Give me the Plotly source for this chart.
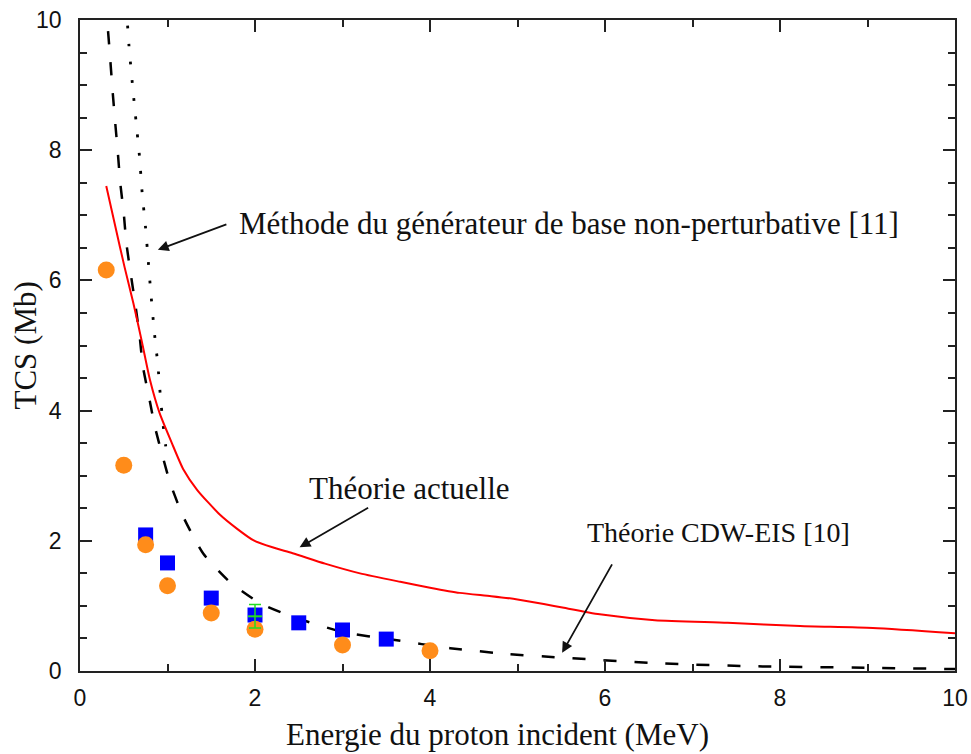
import plotly.graph_objects as go

# Théorie actuelle (red solid)
red_x = [0.3, 0.4, 0.51, 0.61, 0.71, 0.8, 0.91, 1.05, 1.18, 1.34, 1.6, 1.8, 1.98, 2.2, 2.43, 2.8,
         3.2, 3.66, 4.0, 4.34, 4.7, 5.0, 5.3, 5.53, 5.94, 6.57, 7.4, 8.23, 9.06, 10.0]
red_y = [7.45, 6.85, 6.2, 5.65, 5.04, 4.47, 3.96, 3.5, 3.1, 2.78, 2.4, 2.18, 2.01, 1.9, 1.81, 1.65,
         1.5, 1.37, 1.28, 1.2, 1.15, 1.1, 1.03, 0.97, 0.87, 0.78, 0.74, 0.69, 0.66, 0.58]

# Théorie CDW-EIS [10] (black dashed)
cdw_x = [0.29, 0.31, 0.34, 0.37, 0.4, 0.43, 0.46, 0.5, 0.53, 0.58, 0.63, 0.68, 0.72, 0.79, 0.86,
         0.95, 1.03, 1.18, 1.41, 1.71, 2.06, 2.44, 3.0, 3.58, 4.23, 4.9, 5.57, 6.57, 7.8, 9.0, 10.0]
cdw_y = [10.3, 10.0, 9.5, 8.95, 8.46, 8.0, 7.5, 7.03, 6.57, 6.1, 5.65, 5.16, 4.67, 4.2, 3.73,
         3.27, 2.89, 2.37, 1.8, 1.37, 1.04, 0.83, 0.6, 0.48, 0.35, 0.26, 0.2, 0.12, 0.07, 0.05, 0.03]

# Méthode du générateur de base non-perturbative [11] (black dotted)
nb_x = [0.53, 0.56, 0.6, 0.64, 0.68, 0.71, 0.75, 0.78, 0.81, 0.85, 0.89, 0.92, 0.95, 0.98]
nb_y = [10.2, 9.6, 9.0, 8.45, 7.9, 7.35, 6.8, 6.3, 5.8, 5.2, 4.7, 4.2, 3.78, 3.45]

# Experimental data
orange_x = [0.3, 0.5, 0.75, 1.0, 1.5, 2.0, 3.0, 4.0]
orange_y = [6.16, 3.16, 1.94, 1.31, 0.89, 0.64, 0.4, 0.31]

blue_x = [0.75, 1.0, 1.5, 2.0, 2.5, 3.0, 3.5]
blue_y = [2.09, 1.66, 1.12, 0.86, 0.74, 0.63, 0.49]

green_x = [2.0]
green_y = [0.84]
green_err = [0.18]

x_ticks = [0, 2, 4, 6, 8, 10]
y_ticks = [0, 2, 4, 6, 8, 10]

serif = "Liberation Serif, Times New Roman, serif"
sans = "Liberation Sans, Arial, sans-serif"

fig = go.Figure()
fig.add_trace(go.Scatter(x=nb_x, y=nb_y, mode="lines",
                         line=dict(color="black", width=2.8, dash="2.8px,15.5px",
                                   shape="spline", smoothing=0.6)))
fig.add_trace(go.Scatter(x=cdw_x, y=cdw_y, mode="lines",
                         line=dict(color="black", width=2.5, dash="13px,18px",
                                   shape="spline", smoothing=0.6)))
fig.add_trace(go.Scatter(x=red_x, y=red_y, mode="lines",
                         line=dict(color="#ff0000", width=2, shape="spline", smoothing=0.6)))
fig.add_trace(go.Scatter(x=blue_x, y=blue_y, mode="markers",
                         marker=dict(symbol="square", size=15, color="#0000ff")))
fig.add_trace(go.Scatter(x=orange_x, y=orange_y, mode="markers",
                         marker=dict(symbol="circle", size=17, color="#ff8c1a")))
fig.add_trace(go.Scatter(x=green_x, y=green_y, mode="markers",
                         marker=dict(symbol="line-ew-open", size=10, color="#22dd22",
                                     line=dict(color="#22dd22", width=2)),
                         error_y=dict(type="data", array=green_err, color="#22dd22",
                                      thickness=1.5, width=6)))

axis_common = dict(
    range=[0, 10], showgrid=False, zeroline=False, automargin=False,
    showline=True, linecolor="#222", linewidth=1.5, mirror="allticks",
    ticks="inside", ticklen=12, tickwidth=1.5, tickcolor="#222",
    tickfont=dict(family=sans, size=23, color="#111"),
)

fig.update_xaxes(**axis_common, tickvals=x_ticks,
                 minor=dict(dtick=1, ticklen=7, tickwidth=1.5, tickcolor="#222", ticks="inside"),
                 ticklabelstandoff=6)
fig.update_yaxes(**axis_common, tickvals=y_ticks,
                 minor=dict(dtick=0.5, ticklen=7, tickwidth=1.5, tickcolor="#222", ticks="inside"),
                 ticklabelstandoff=12)

title_font = dict(family=serif, size=31, color="#111")
ann_font = dict(family=serif, size=31, color="#111")
annotations = [
    # axis titles
    dict(x=0.4766, y=0.0, yshift=-63, xref="paper", yref="paper",
         text="Energie du proton incident (MeV)", xanchor="center", yanchor="middle",
         showarrow=False, font=title_font),
    dict(x=0.0, xshift=-55, y=0.5, xref="paper", yref="paper", textangle=-90,
         text="TCS (Mb)", xanchor="center", yanchor="middle",
         showarrow=False, font=title_font),
    # curve labels
    dict(x=1.79, y=6.88, text="Méthode du générateur de base non-perturbative [11]",
         xanchor="left", yanchor="middle", showarrow=False, font=ann_font),
    dict(x=3.77, y=2.81, text="Théorie actuelle",
         xanchor="center", yanchor="middle", showarrow=False, font=ann_font),
    dict(x=5.77, y=2.12, text="Théorie CDW-EIS [10]",
         xanchor="left", yanchor="middle", showarrow=False,
         font=dict(family=serif, size=28, color="#111")),
    dict(x=0.89, y=6.47, ax=1.69, ay=6.87, axref="x", ayref="y", text="",
         showarrow=True, arrowhead=2, arrowsize=1.2, arrowwidth=1.8, arrowcolor="#111"),
    dict(x=2.51, y=1.90, ax=3.31, ay=2.52, axref="x", ayref="y", text="",
         showarrow=True, arrowhead=2, arrowsize=1.2, arrowwidth=1.8, arrowcolor="#111"),
    dict(x=5.51, y=0.28, ax=6.09, ay=1.66, axref="x", ayref="y", text="",
         showarrow=True, arrowhead=2, arrowsize=1.2, arrowwidth=1.8, arrowcolor="#111"),
]

fig.update_layout(
    width=971, height=754,
    margin=dict(l=80, r=16, t=20, b=83),
    paper_bgcolor="white", plot_bgcolor="white",
    showlegend=False,
    annotations=annotations,
)

fig.write_html("out.html")
